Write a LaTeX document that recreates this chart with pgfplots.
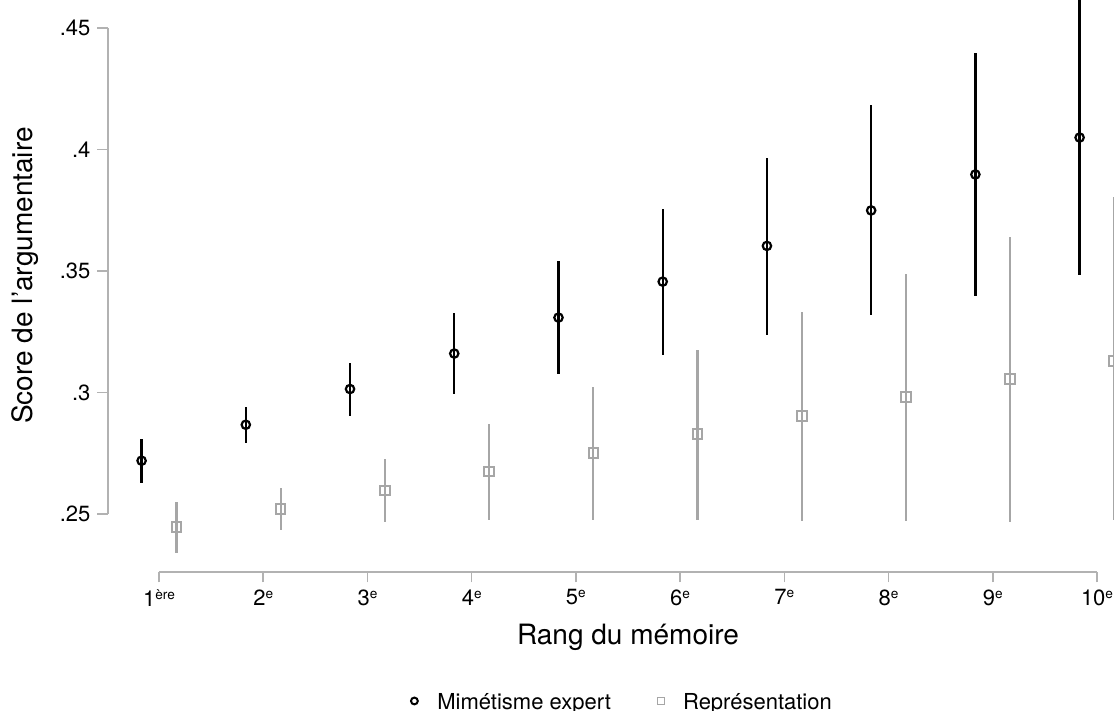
\documentclass[border=0pt]{standalone}
\usepackage{pgfplots}
\usepackage{pgfplotstable}
\pgfplotsset{compat=1.18}
\usepackage{fontspec}
\setmainfont{TeX Gyre Heros}
\definecolor{pgray}{RGB}{166,166,166}
\definecolor{agray}{RGB}{178,178,178}
\newcommand{\rsup}[1]{\raisebox{3.5pt}{\fontsize{6.8}{7}\selectfont #1}}
\pgfplotstableread{
x y hi lo
0.833 0.2719 0.2808 0.2627
1.833 0.2867 0.2941 0.2791
2.833 0.3014 0.3123 0.2902
3.833 0.3160 0.3327 0.2992
4.833 0.3308 0.3540 0.3075
5.833 0.3456 0.3753 0.3156
6.833 0.3603 0.3966 0.3237
7.833 0.3749 0.4182 0.3317
8.833 0.3897 0.4397 0.3396
9.833 0.4049 0.4617 0.3482
}\mimetisme
\pgfplotstableread{
x y hi lo
1.167 0.2447 0.2549 0.2340
2.167 0.2521 0.2608 0.2433
3.167 0.2597 0.2726 0.2467
4.167 0.2674 0.2870 0.2475
5.167 0.2751 0.3021 0.2475
6.167 0.2828 0.3175 0.2475
7.167 0.2904 0.3330 0.2472
8.167 0.2980 0.3486 0.2472
9.167 0.3056 0.3641 0.2467
10.160 0.3129 0.3803 0.2475
}\representation
\begin{document}
\begin{tikzpicture}
\begin{axis}[
  scale only axis, width=503pt, height=286pt,
  xmin=0.5107, xmax=10.163, ymin=0.2261, ymax=0.4615,
  axis x line*=bottom, axis y line*=left,
  axis line style={draw=none},
  tick align=outside, major tick length=5.25pt,
  tick style={agray, line width=0.8pt},
  xtick={1,2,3,4,5,6,7,8,9,10},
  xticklabels={1\rsup{ère},2\rsup{e},3\rsup{e},4\rsup{e},5\rsup{e},6\rsup{e},7\rsup{e},8\rsup{e},9\rsup{e},10\rsup{e}},
  ytick={0.25,0.3,0.35,0.4,0.45},
  yticklabels={.25,.3,.35,.4,.45},
  ticklabel style={font=\fontsize{11}{12}\selectfont},
  legend columns=2,
  legend style={at={(0.3002,-0.2255)}, anchor=west, draw=none, fill=none,
    inner sep=0pt, outer sep=0pt,
    nodes={inner sep=0pt, text depth=0pt},
    font=\fontsize{11}{12}\selectfont,
    /tikz/every even column/.append style={column sep=23pt}},
  legend cell align=left,
]
\addplot+[only marks, black, mark=o, mark size=2.1pt,
  mark options={black, line width=1.1pt, fill=none},
  legend image code/.code={\path[draw=none, fill=none] (-2pt,0) -- (11.5pt,0);
    \draw[black, line width=1pt, fill=none] (0,0) circle (1.7pt);},
  error bars/.cd, y dir=both, y explicit,
  error bar style={black, line width=1.2pt}, error mark=none]
  table[x=x, y=y, y error plus expr=\thisrow{hi}-\thisrow{y}, y error minus expr=\thisrow{y}-\thisrow{lo}] {\mimetisme};
\addlegendentry{Mimétisme expert}
\addplot+[only marks, pgray, mark=square, mark size=2.4pt,
  mark options={pgray, line width=1pt, fill=none},
  legend image code/.code={\path[draw=none, fill=none] (-2pt,0) -- (11pt,0);
    \draw[pgray, line width=0.8pt, fill=none] (-1.7pt,-1.7pt) rectangle (1.7pt,1.7pt);},
  error bars/.cd, y dir=both, y explicit,
  error bar style={pgray, line width=1.1pt}, error mark=none]
  table[x=x, y=y, y error plus expr=\thisrow{hi}-\thisrow{y}, y error minus expr=\thisrow{y}-\thisrow{lo}] {\representation};
\addlegendentry{Représentation}
\coordinate (xa) at (axis cs:1,0.2261);
\coordinate (xb) at (axis cs:10,0.2261);
\coordinate (ya) at (axis cs:0.5107,0.25);
\coordinate (yb) at (axis cs:0.5107,0.45);
\end{axis}
\draw[agray, line width=0.8pt] (xa) -- (xb);
\draw[agray, line width=0.8pt] (ya) -- (yb);
\node[rotate=90, anchor=base, font=\fontsize{14}{16}\selectfont] at (-37.5pt,148.25pt) {Score de l'argumentaire};
\node[anchor=base, font=\fontsize{14}{16}\selectfont] at (260pt,-36.5pt) {Rang du mémoire};
\pgfresetboundingbox
\path (-54pt,-69.5pt) rectangle (503pt,286pt);
\end{tikzpicture}
\end{document}
